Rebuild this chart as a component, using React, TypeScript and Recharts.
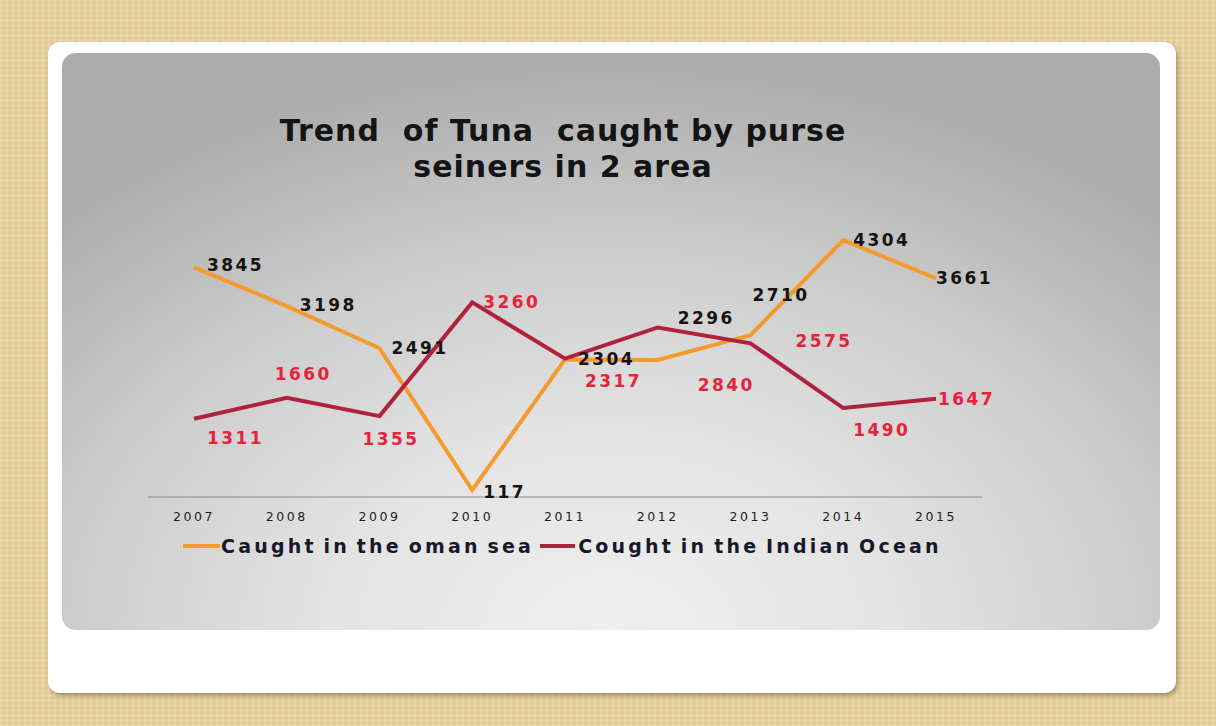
import React from "react";
import { LineChart, Line, XAxis, YAxis, LabelList } from "recharts";

const years = ["2007", "2008", "2009", "2010", "2011", "2012", "2013", "2014", "2015"];
const omanSea = [3845, 3198, 2491, 117, 2304, 2296, 2710, 4304, 3661];
const indianOcean = [1311, 1660, 1355, 3260, 2317, 2840, 2575, 1490, 1647];
const seriesNames = ["Caught in the oman sea", "Cought in the Indian Ocean"];
const titleLines = ["Trend  of Tuna  caught by purse", "seiners in 2 area"];

const data = years.map((y, i) => ({ year: y, oman: omanSea[i], indian: indianOcean[i] }));

const ORANGE = "#f59a2c";
const CRIMSON = "#b0213c";
const LABEL_RED = "#e5233b";

// label placement (dx, dy) relative to each point, mimicking the original manual layout
const omanOffsets: [number, number][] = [
  [13, -2], [13, -1], [12, 0], [11, 2], [13, 0], [20, -42], [2, -40], [10, 0], [0, 0],
];
const indianOffsets: [number, number][] = [
  [13, 19], [-12, -24], [-17, 23], [11, 0], [20, 22], [40, 58], [45, -2], [10, 22], [2, 0],
];

const makeLabel = (offsets: [number, number][], color: string) => (props: any) => {
  const { x, y, value, index } = props;
  const [dx, dy] = offsets[index] || [0, 0];
  return (
    <text
      x={x + dx}
      y={y + dy}
      fill={color}
      fontFamily="DejaVu Sans, Verdana, sans-serif"
      fontWeight="bold"
      fontSize={17}
      letterSpacing={2.4}
      dominantBaseline="central"
      textAnchor="start"
    >
      {value}
    </text>
  );
};

const titleStyle: React.CSSProperties = {
  position: "absolute",
  left: 62,
  width: 1002,
  height: 30,
  textAlign: "center",
  fontWeight: "bold",
  fontSize: 30,
  letterSpacing: 1,
  lineHeight: "30px",
  color: "#141414",
  whiteSpace: "pre",
};

export default function App() {
  return (
    <div
      style={{
        position: "absolute",
        left: 0,
        top: 0,
        width: 1216,
        height: 726,
        overflow: "hidden",
        background:
          "repeating-linear-gradient(90deg, rgba(255,255,255,0.10) 0px, rgba(255,255,255,0.10) 2px, rgba(0,0,0,0.03) 3px, rgba(0,0,0,0.0) 6px), repeating-linear-gradient(0deg, rgba(255,255,255,0.08) 0px, rgba(0,0,0,0.03) 3px, rgba(255,255,255,0.0) 5px), #e9d39c",
        fontFamily: "DejaVu Sans, Verdana, sans-serif",
      }}
    >
      {/* white card */}
      <div
        style={{
          position: "absolute",
          left: 48,
          top: 42,
          width: 1128,
          height: 651,
          background: "#ffffff",
          borderRadius: 12,
          boxShadow: "2px 3px 4px rgba(90,70,40,0.45)",
        }}
      />
      {/* gray gradient panel */}
      <div
        style={{
          position: "absolute",
          left: 62,
          top: 53,
          width: 1098,
          height: 577,
          borderRadius: 14,
          background:
            "radial-gradient(ellipse 75% 100% at 50% 100%, #efefef 0%, #e3e3e3 35%, #cdcdcd 65%, #ababab 100%)",
        }}
      />
      {/* title */}
      <div style={{ ...titleStyle, top: 116 }}>{titleLines[0]}</div>
      <div style={{ ...titleStyle, top: 152 }}>{titleLines[1]}</div>
      {/* chart */}
      <div style={{ position: "absolute", left: 0, top: 0 }}>
        <LineChart
          width={1216}
          height={726}
          data={data}
          margin={{ top: 198.5, left: 148, right: 234, bottom: 199 }}
        >
          <XAxis
            dataKey="year"
            axisLine={{ stroke: "#8a8a8a", strokeWidth: 1 }}
            tickLine={false}
            tickSize={0}
            tickMargin={15}
            height={30}
            padding={{ left: 46, right: 46 }}
            tick={{ fill: "#1e1e1e", fontSize: 12.5, letterSpacing: 2.6, fontFamily: "DejaVu Sans, Verdana, sans-serif" } as any}
            interval={0}
          />
          <YAxis hide domain={[0, 5000]} />
          <Line
            dataKey="oman"
            name={seriesNames[0]}
            stroke={ORANGE}
            strokeWidth={4}
            dot={false}
            isAnimationActive={false}
          >
            <LabelList dataKey="oman" content={makeLabel(omanOffsets, "#141414")} />
          </Line>
          <Line
            dataKey="indian"
            name={seriesNames[1]}
            stroke={CRIMSON}
            strokeWidth={4}
            dot={false}
            isAnimationActive={false}
          >
            <LabelList dataKey="indian" content={makeLabel(indianOffsets, LABEL_RED)} />
          </Line>
        </LineChart>
      </div>
      {/* legend */}
      <div
        style={{
          position: "absolute",
          left: 183,
          top: 534,
          display: "flex",
          alignItems: "center",
          fontWeight: "bold",
          fontSize: 19,
          letterSpacing: 3.2,
          wordSpacing: -3,
          color: "#151a2a",
          whiteSpace: "nowrap",
          lineHeight: "24px",
        }}
      >
        <span style={{ display: "inline-block", width: 37, height: 4, background: ORANGE, marginRight: 1 }} />
        <span>{seriesNames[0]}</span>
        <span style={{ display: "inline-block", width: 35, height: 4, background: CRIMSON, marginLeft: 6, marginRight: 3 }} />
        <span>{seriesNames[1]}</span>
      </div>
    </div>
  );
}
